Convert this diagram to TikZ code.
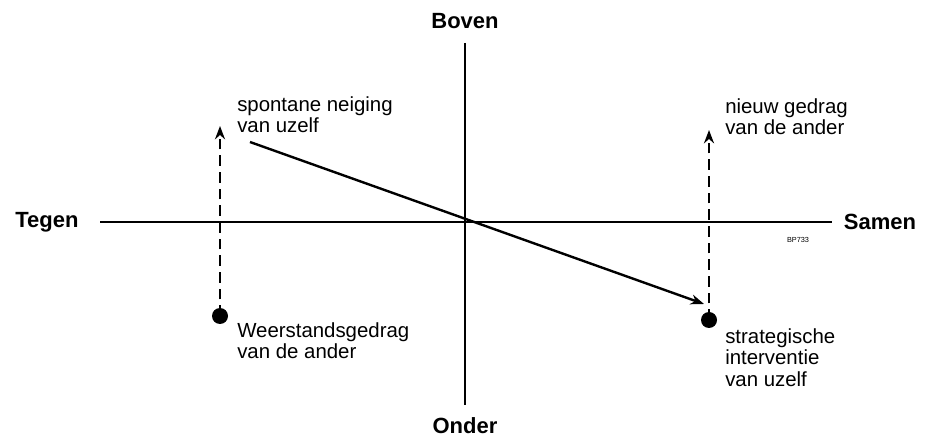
\documentclass[tikz,border=0pt]{standalone}
\usepackage{fontspec}
\setmainfont{Liberation Sans}
\usetikzlibrary{arrows.meta}

\begin{document}
\begin{tikzpicture}[x=0.75pt, y=-0.75pt, >={Stealth[length=10pt,width=7.5pt]},
  axis/.style={line width=1pt},
  pole/.style={font=\fontsize{16.5}{18}\selectfont\bfseries},
  lbl/.style={font=\fontsize{15.3}{16.2}\selectfont, align=left, anchor=north west, inner sep=0pt},
  move/.style={line width=1.8pt, ->},
  dashmove/.style={line width=1.8pt, dash pattern=on 8pt off 4.5pt, ->}]
\useasboundingbox (0,0) rectangle (931,441);
% axes
\coordinate (west) at (100,222);
\coordinate (east) at (832,222);
\coordinate (north) at (465,43);
\coordinate (south) at (465,405);
\draw[axis] (west) -- (east);
\draw[axis] (north) -- (south);
\node[pole] (tegen) at (47,222) {Tegen};
\node[pole] (samen) at (880,222) {Samen};
\node[pole] (boven) at (465,21) {Boven};
\node[pole] (onder) at (465,426) {Onder};
\node[font=\fontsize{5.5}{6}\selectfont] (code) at (798,240) {BP733};
% points
\coordinate (resist) at (220,316);
\coordinate (resistTip) at (220,126);
\coordinate (interv) at (709,320);
\coordinate (intervTip) at (709,130);
\coordinate (spont) at (250,142);
\coordinate (spontTip) at (704,304);
\draw[dashmove] (resist) -- (resistTip);
\draw[dashmove] (interv) -- (intervTip);
\draw[move] (spont) -- (spontTip);
\fill (resist) circle (8);
\fill (interv) circle (8);
% labels
\node[lbl] (spontLbl) at (237,96) {spontane neiging\\van uzelf};
\node[lbl] (newLbl) at (725,98) {nieuw gedrag\\van de ander};
\node[lbl] (resistLbl) at (237,322) {Weerstandsgedrag\\van de ander};
\node[lbl] (intervLbl) at (725,328) {strategische\\interventie\\van uzelf};
\end{tikzpicture}
\end{document}
